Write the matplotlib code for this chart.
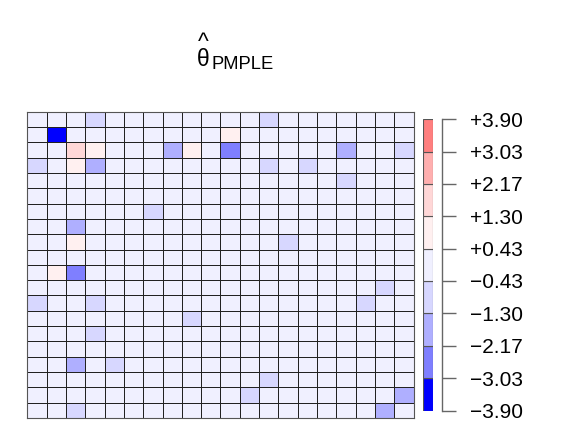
import numpy as np
import matplotlib
matplotlib.use("Agg")
import matplotlib.pyplot as plt
from matplotlib.colors import ListedColormap, BoundaryNorm

plt.rcParams['font.family'] = ['Liberation Sans', 'DejaVu Sans']

# grid size
n_rows, n_cols = 20, 20

# non-background cells (row from top, column from left, estimated value)
cell_rows = [0, 0, 1, 1, 2, 2, 2, 2, 2, 2, 2, 3, 3, 3, 3, 3, 4, 6, 7, 8, 8,
             10, 10, 11, 12, 12, 12, 13, 14, 16, 16, 17, 18, 18, 19, 19]
cell_cols = [3, 12, 1, 10, 2, 3, 7, 8, 10, 16, 19, 0, 2, 3, 12, 14, 16, 6, 2, 2, 13,
             1, 2, 18, 0, 3, 17, 8, 3, 2, 4, 12, 11, 19, 2, 18]
cell_vals = [-0.9, -0.9, -3.9, 0.8, 1.7, 0.8, -1.7, 0.8, -2.6, -1.7, -0.9,
             -0.9, 0.8, -1.7, -0.9, -0.9, -0.9, -0.9, -1.7, 0.8, -0.9,
             0.8, -2.6, -0.9, -0.9, -0.9, -0.9, -0.9, -0.9, -1.7, -0.9,
             -0.9, -0.9, -1.7, -0.9, -1.7]

# colour classes
breaks = [-3.90, -3.03, -2.17, -1.30, -0.43, 0.43, 1.30, 2.17, 3.03, 3.90]
tick_labels = ["\u22123.90", "\u22123.03", "\u22122.17", "\u22121.30", "\u22120.43",
               "+0.43", "+1.30", "+2.17", "+3.03", "+3.90"]
colors = ['#0000FF', '#7F7FFF', '#AFAFFF', '#D7D7FF', '#F0F0FF',
          '#FFF0F0', '#FFD7D7', '#FFAFAF', '#FF7F7F']

z = np.zeros((n_rows, n_cols))
for r, c, v in zip(cell_rows, cell_cols, cell_vals):
    z[r, c] = v

cmap = ListedColormap(colors)
norm = BoundaryNorm(breaks, cmap.N)

W, H = 585, 446
fig = plt.figure(figsize=(W / 100, H / 100), dpi=100)

ax = fig.add_axes([27.3 / W, 1 - 418 / H, (413.7 - 27.3) / W, (418 - 111.7) / H])
ax.pcolormesh(np.arange(n_cols + 1), np.arange(n_rows + 1), z, cmap=cmap, norm=norm,
              edgecolors='#222222', linewidth=0.7)
ax.set_xlim(0, n_cols)
ax.set_ylim(n_rows, 0)
ax.set_xticks([])
ax.set_yticks([])
for s in ax.spines.values():
    s.set_color('#555555')
    s.set_linewidth(0.8)

# colour key
cb_bot, cb_top = 410.5, 119.3
cax = fig.add_axes([423 / W, 1 - cb_bot / H, 10 / W, (cb_bot - cb_top) / H])
for i, col in enumerate(colors):
    cax.bar(0.5, breaks[i + 1] - breaks[i], bottom=breaks[i], width=1, color=col,
            edgecolor='#555555', linewidth=0.8)
cax.set_xlim(0, 1)
cax.set_ylim(breaks[0], breaks[-1])
cax.axis('off')

tax = fig.add_axes([442.3 / W, 1 - cb_bot / H, 0.0001, (cb_bot - cb_top) / H])
tax.set_ylim(breaks[0], breaks[-1])
tax.set_xticks([])
for k in ['top', 'bottom', 'left']:
    tax.spines[k].set_visible(False)
tax.spines['right'].set_color('#666666')
tax.spines['right'].set_linewidth(1.0)
tax.yaxis.tick_right()
tax.set_yticks(breaks)
tax.set_yticklabels(tick_labels)
tax.tick_params(axis='y', direction='out', length=10.4, width=1.0, color='#666666',
                pad=9.6, labelsize=15)

# title: theta with hat (one two-line text) and subscript
fig.text(197 / W, 1 - 65.5 / H, "^\n\u03b8", ha='left', va='baseline',
         multialignment='center', linespacing=0.62, fontsize=16.5)
fig.text(211.5 / W, 1 - 69.3 / H, "PMPLE", ha='left', va='baseline', fontsize=13.2)

fig.savefig('out.png', dpi=100)
